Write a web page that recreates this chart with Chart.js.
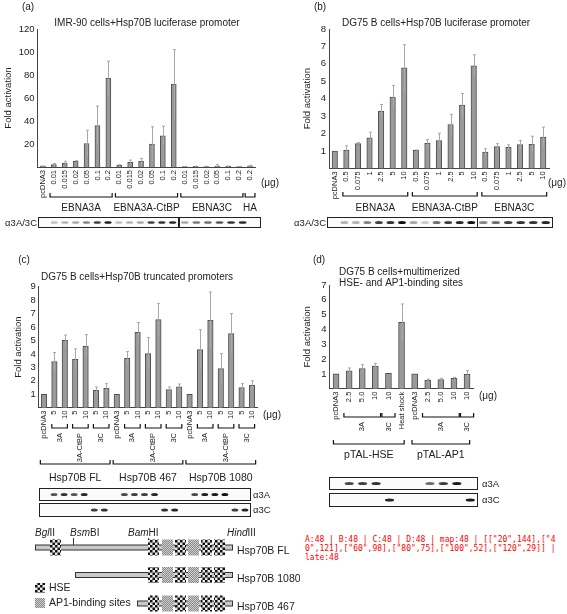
<!DOCTYPE html>
<html>
<head>
<meta charset="utf-8">
<script src="https://cdn.jsdelivr.net/npm/chart.js@4.4.1/dist/chart.umd.min.js"></script>
<style>
  body { margin: 0; background: #fff; width: 567px; height: 614px; position: relative; overflow: hidden; }
  canvas { position: absolute; }
</style>
</head>
<body>
<canvas id="chartA" width="283" height="235" style="left:0;top:0"></canvas>
<canvas id="chartB" width="284" height="235" style="left:283px;top:0"></canvas>
<canvas id="chartC" width="283" height="290" style="left:0;top:235px"></canvas>
<canvas id="chartD" width="284" height="290" style="left:283px;top:235px"></canvas>
<canvas id="promoterMap" width="300" height="89" style="left:0;top:525px"></canvas>
<div id="dbg" style="position:absolute;left:305px;top:535px;width:260px;font:8px monospace;color:red;word-break:break-all"></div>
<script>
// (a) IMR-90 cells
const labelsA = ['pcDNA3', '0.01', '0.015', '0.02', '0.05', '0.1', '0.2', '0.01', '0.015', '0.02', '0.05', '0.1', '0.2', '0.01', '0.015', '0.02', '0.05', '0.1', '0.2', '0.2'];
const valuesA = [1, 2, 3.5, 5, 20.4, 36, 77, 1.5, 4, 5, 20, 27, 72, 0.4, 0.5, 0.4, 0.8, 0.5, 0.4, 1];
const errorsA = [0, 1, 1.5, 0.5, 11.6, 17, 15, 0.5, 2, 2.5, 15, 8.5, 30, 0, 0.2, 0.2, 1.2, 0.3, 0.1, 0.5];
const yTicksA = [20, 40, 60, 80, 100, 120];
const groupsA = ['EBNA3A', 'EBNA3A-CtBP', 'EBNA3C', 'HA'];
const bandsA = [0, 0.25, 0.3, 0.35, 0.5, 0.8, 0.95, 0.25, 0.3, 0.35, 0.8, 0.85, 0.9, 0.35, 0.55, 0.6, 0.7, 0.85, 0.9, 0];

// (b) DG75 B cells
const labelsB = ['pcDNA3', '0.5', '0.075', '1', '2.5', '5', '10', '0.5', '0.075', '1', '2.5', '5', '10', '0.5', '0.075', '1', '2.5', '5', '10'];
const valuesB = [1, 1.04, 1.42, 1.75, 3.29, 4.1, 5.77, 1.04, 1.44, 1.6, 2.52, 3.63, 5.88, 0.94, 1.25, 1.21, 1.37, 1.38, 1.8];
const errorsB = [0, 0.25, 0.06, 0.33, 0.38, 0.65, 1.33, 0.02, 0.21, 0.42, 0.58, 0.67, 0.64, 0.19, 0.17, 0.14, 0.23, 0.47, 0.57];
const yTicksB = [1, 2, 3, 4, 5, 6, 7, 8];
const groupsB = ['EBNA3A', 'EBNA3A-CtBP', 'EBNA3C'];
const bandsB = [0, 0.3, 0.3, 0.5, 0.8, 0.85, 1, 0.35, 0.2, 0.6, 0.8, 0.9, 1, 0.5, 0.6, 0.8, 0.85, 0.85, 0.9];

// (c) truncated promoters
const labelsC = ['pcDNA3', '5', '10', '5', '10', '5', '10', 'pcDNA3', '5', '10', '5', '10', '5', '10', 'pcDNA3', '5', '10', '5', '10', '5', '10'];
const valuesC = [1, 3.42, 5.0, 3.6, 4.56, 1.29, 1.44, 1, 3.67, 5.6, 4.02, 6.55, 1.34, 1.56, 1, 4.32, 6.5, 2.9, 5.5, 1.49, 1.66];
const errorsC = [0, 0.68, 0.4, 0.77, 0.87, 0.25, 0.35, 0, 0.5, 0.73, 1.19, 1.19, 0.2, 0.2, 0, 1.48, 2.1, 1.12, 1.5, 0.3, 0.34];
const yTicksC = [1, 2, 3, 4, 5, 6, 7, 8, 9];
const constructsC = ['3A', '3A-CtBP', '3C'];
const promotersC = ['Hsp70B FL', 'Hsp70B 467', 'Hsp70B 1080'];
const bands3AC = [0, 0.7, 0.85, 0.7, 0.9, 0, 0, 0, 0.75, 0.8, 0.8, 0.9, 0, 0, 0, 0.75, 0.95, 0.95, 1, 0, 0];
const bands3CC = [0, 0, 0, 0, 0, 0.8, 0.85, 0, 0, 0, 0, 0, 0.85, 0.9, 0, 0, 0, 0, 0, 0.8, 0.9];

// (d) multimerized HSE / AP1 sites
const labelsD = ['pcDNA3', '2.5', '5.0', '10', '10', 'Heat shock', 'pcDNA3', '2.5', '5.0', '10', '10'];
const valuesD = [1, 1.2, 1.35, 1.53, 1.04, 4.48, 1, 0.59, 0.61, 0.7, 0.97];
const errorsD = [0, 0.2, 0.27, 0.18, 0, 1.24, 0, 0.06, 0.09, 0.07, 0.25];
const yTicksD = [1, 2, 3, 4, 5, 6, 7];
const reportersD = ['pTAL-HSE', 'pTAL-AP1'];
const bands3AD = [0, 0.75, 0.8, 0.85, 0, 0, 0, 0.6, 0.8, 0.95, 0];
const bands3CD = [0, 0, 0, 0, 0.9, 0, 0, 0, 0, 0, 0.95];

const FONT = '"Liberation Sans", Arial, sans-serif';
const INK = '#222';
const log = [];
function countDark() {
  const d = document.getElementById('chartA').getContext('2d').getImageData(18, 24, 18, 10).data;
  let dark = 0;
  for (let i = 0; i < d.length; i += 4) if (d[i + 3] > 50 && d[i] < 150) dark++;
  return dark;
}

function bracket(ctx, x1, x2, y, h) {
  ctx.beginPath();
  ctx.moveTo(x1, y - h); ctx.lineTo(x1, y); ctx.lineTo(x2, y); ctx.lineTo(x2, y - h);
  ctx.stroke();
}

function decor(o) {
  return {
    id: 'decor',
    afterDatasetsDraw(chart) {
      const ctx = chart.ctx, ys = chart.scales.y;
      const ds = chart.data.datasets[0];
      const meta = chart.getDatasetMeta(0);
      ctx.save();
      ctx.strokeStyle = '#a8a8a8';
      ctx.lineWidth = 1;
      meta.data.forEach((bar, i) => {
        const e = o.errors[i];
        if (!e) return;
        const x = Math.round(bar.x) + 0.5;
        const yt = ys.getPixelForValue(ds.data[i] + e);
        const yb = ys.getPixelForValue(Math.max(0, ds.data[i] - e));
        ctx.beginPath();
        ctx.moveTo(x, yb); ctx.lineTo(x, yt);
        ctx.moveTo(x - 1.5, yt); ctx.lineTo(x + 1.5, yt);
        ctx.stroke();
      });
      ctx.restore();
    },
    afterDraw(chart) {
      const ctx = chart.ctx, xs = chart.scales.x, area = chart.chartArea;
      const lane = i => xs.getPixelForValue(i);
      ctx.save();
      ctx.fillStyle = INK;
      ctx.strokeStyle = '#111';
      ctx.textBaseline = 'middle';
      ctx.font = '10px ' + FONT;
      ctx.textAlign = 'center';
      ctx.fillText(o.letter[0], o.letter[1], o.letter[2]);
      o.title.forEach(t => {
        ctx.textAlign = t[3] || 'center';
        ctx.fillText(t[0], t[1], t[2]);
      });
      ctx.save();
      ctx.font = '9.5px ' + FONT;
      ctx.textAlign = 'center';
      ctx.translate(o.yTitleX, (area.top + area.bottom) / 2);
      ctx.rotate(-Math.PI / 2);
      ctx.fillText('Fold activation', 0, 0);
      ctx.restore();
      ctx.font = '10px ' + FONT;
      ctx.textAlign = 'center';
      ctx.fillText('(μg)', o.unit[0], o.unit[1]);
      ctx.lineWidth = 1.2;
      (o.brackets || []).forEach(b => {
        const w = xs.getPixelForValue(1) - xs.getPixelForValue(0);
        const x1 = lane(b.from) - b.pad * w, x2 = lane(b.to) + b.pad * w;
        bracket(ctx, x1, x2, b.y, 4);
        if (!b.text) return;
        if (b.rotate) {
          ctx.save();
          ctx.font = b.size + 'px ' + FONT;
          ctx.translate((lane(b.from) + lane(b.to)) / 2, b.ty);
          ctx.rotate(-Math.PI / 2);
          ctx.textAlign = 'right';
          ctx.fillText(b.text, 0, 0);
          ctx.restore();
        } else {
          ctx.font = b.size + 'px ' + FONT;
          ctx.textAlign = 'center';
          ctx.fillText(b.text, (lane(b.from) + lane(b.to)) / 2, b.ty);
        }
      });
      (o.blots || []).forEach(bl => {
        ctx.lineWidth = 1;
        ctx.strokeStyle = '#222';
        bl.boxes.forEach(bx => {
          ctx.fillStyle = '#fbfbfb';
          ctx.fillRect(bx[0], bl.top, bx[1] - bx[0], bl.h);
          ctx.strokeRect(bx[0] + 0.5, bl.top + 0.5, bx[1] - bx[0], bl.h);
          const n = bx[3] - bx[2] + 1, pitch = (bx[1] - bx[0]) / n;
          for (let i = bx[2]; i <= bx[3]; i++) {
            const a = bl.bands[i];
            if (!a) continue;
            const cx = bx[0] + (i - bx[2] + 0.5) * pitch;
            ctx.fillStyle = 'rgba(15,15,15,' + a + ')';
            ctx.beginPath();
            ctx.ellipse(cx, bl.top + bl.h / 2 + 0.5, pitch * 0.34, bl.bandH / 2, 0, 0, Math.PI * 2);
            ctx.fill();
          }
        });
        ctx.fillStyle = INK;
        ctx.font = '9.5px ' + FONT;
        ctx.textAlign = bl.align;
        ctx.fillText(bl.label, bl.labelX, bl.top + bl.h / 2 + 1);
      });
      ctx.restore();
    }
  };
}

function makePanel(id, labels, values, yTicks, o) {
  const canvas = document.getElementById(id);
  const W = canvas.width, H = canvas.height;
  const XH = 40;
  return new Chart(canvas, {
    type: 'bar',
    data: {
      labels: labels,
      datasets: [{ data: values, backgroundColor: '#9a9a9a', borderColor: '#505050', borderWidth: 1, barThickness: o.barW }]
    },
    options: {
      responsive: false,
      animation: false,
      layout: { padding: { left: 0, top: o.area.top, right: W - o.area.right, bottom: H - o.area.bottom - XH } },
      plugins: { legend: { display: false }, tooltip: { enabled: false } },
      scales: {
        x: {
          grid: { display: false, drawTicks: false },
          border: { color: '#444', width: 1 },
          ticks: { autoSkip: false, maxRotation: 90, minRotation: 90, padding: 3, color: INK, font: { family: FONT, size: o.xFont } },
          afterFit: s => { s.height = XH; }
        },
        y: {
          min: 0, max: yTicks[yTicks.length - 1],
          grid: { display: false, drawTicks: false },
          border: { color: '#444', width: 1 },
          ticks: { autoSkip: false, padding: 3, color: INK, font: { family: FONT, size: 9.5 } },
          afterBuildTicks: s => { s.ticks = yTicks.map(v => ({ value: v })); },
          afterFit: s => { s.width = o.area.left; }
        }
      }
    },
    plugins: [decor(o)]
  });
}

// panel (a)
const chartA = makePanel('chartA', labelsA, valuesA, yTicksA, {
  errors: errorsA, barW: 5, xFont: 7.5,
  area: { left: 37.5, right: 255.5, top: 29, bottom: 167 },
  letter: ['(a)', 28, 7],
  title: [['IMR-90 cells+Hsp70B luciferase promoter', 147, 23]],
  yTitleX: 8, unit: [270, 183],
  brackets: [
    { from: 1, to: 6, pad: 0.35, y: 197, text: groupsA[0], ty: 208, size: 10 },
    { from: 7, to: 12, pad: 0.35, y: 197, text: groupsA[1], ty: 208, size: 10 },
    { from: 13, to: 18, pad: 0.35, y: 197, text: groupsA[2], ty: 208, size: 10 },
    { from: 19, to: 19, pad: 0.45, y: 197, text: groupsA[3], ty: 208, size: 10 }
  ],
  blots: [{ top: 217, h: 10, bandH: 2.6, label: 'α3A/3C', labelX: 37, align: 'right', bands: bandsA, boxes: [[38, 178, 0, 12], [179, 260, 13, 19]] }]
});
log.push('A:' + countDark());

// panel (b)
makePanel('chartB', labelsB, valuesB, yTicksB, {
  errors: errorsB, barW: 5.5, xFont: 7.5,
  area: { left: 46, right: 266, top: 29, bottom: 168.4 },
  letter: ['(b)', 37, 7],
  title: [['DG75 B cells+Hsp70B luciferase promoter', 153, 23]],
  yTitleX: 24, unit: [274, 183],
  brackets: [
    { from: 1, to: 6, pad: 0.3, y: 196, text: groupsB[0], ty: 208, size: 10 },
    { from: 7, to: 12, pad: 0.3, y: 196, text: groupsB[1], ty: 208, size: 10 },
    { from: 13, to: 18, pad: 0.3, y: 196, text: groupsB[2], ty: 208, size: 10 }
  ],
  blots: [{ top: 217, h: 10, bandH: 3, label: 'α3A/3C', labelX: 43, align: 'right', bands: bandsB, boxes: [[44, 194, 0, 12], [194, 269, 13, 18]] }]
});
log.push('B:' + countDark());

// panel (c)
const bracketsC = [];
promotersC.forEach((p, g) => {
  const base = g * 7;
  constructsC.forEach((c, k) => {
    bracketsC.push({ from: base + 1 + 2 * k, to: base + 2 + 2 * k, pad: 0.25, y: 193, text: c, ty: 198, size: 7.5, rotate: true });
  });
  bracketsC.push({ from: base, to: base + 6, pad: 0.35, y: 229, text: p, ty: 243, size: 10.5 });
});
makePanel('chartC', labelsC, valuesC, yTicksC, {
  errors: errorsC, barW: 5.5, xFont: 7.5,
  area: { left: 38.8, right: 257.2, top: 51.6, bottom: 172.7 },
  letter: ['(c)', 24, 25],
  title: [['DG75 B cells+Hsp70B truncated promoters', 137, 42]],
  yTitleX: 18, unit: [272, 180],
  brackets: bracketsC,
  blots: [
    { top: 253, h: 12, bandH: 3, label: 'α3A', labelX: 253, align: 'left', bands: bands3AC, boxes: [[39, 250, 0, 20]] },
    { top: 268, h: 13, bandH: 3, label: 'α3C', labelX: 253, align: 'left', bands: bands3CC, boxes: [[39, 250, 0, 20]] }
  ]
});
log.push('C:' + countDark());

// panel (d)
makePanel('chartD', labelsD, valuesD, yTicksD, {
  errors: errorsD, barW: 6, xFont: 7.5,
  area: { left: 46.5, right: 190.6, top: 50, bottom: 153.7 },
  letter: ['(d)', 36, 25],
  title: [['DG75 B cells+multimerized', 56, 37, 'left'], ['HSE- and AP1-binding sites', 56, 48, 'left']],
  yTitleX: 24, unit: [205, 161],
  brackets: [
    { from: 1, to: 3, pad: 0.4, y: 182, text: '3A', ty: 187, size: 7.5, rotate: true },
    { from: 4, to: 4, pad: 0.5, y: 182, text: '3C', ty: 187, size: 7.5, rotate: true },
    { from: 7, to: 9, pad: 0.4, y: 182, text: '3A', ty: 187, size: 7.5, rotate: true },
    { from: 10, to: 10, pad: 0.5, y: 182, text: '3C', ty: 187, size: 7.5, rotate: true },
    { from: 0, to: 5, pad: 0.2, y: 209, text: reportersD[0], ty: 220, size: 10.5 },
    { from: 6, to: 10, pad: 0.2, y: 209, text: reportersD[1], ty: 220, size: 10.5 }
  ],
  blots: [
    { top: 242, h: 12, bandH: 3, label: 'α3A', labelX: 199, align: 'left', bands: bands3AD, boxes: [[46, 194, 0, 10]] },
    { top: 258, h: 13, bandH: 3, label: 'α3C', labelX: 199, align: 'left', bands: bands3CD, boxes: [[46, 194, 0, 10]] }
  ]
});
log.push('D:' + countDark());

// promoter map under panel (c)
(function drawMap() {
  const cv = document.getElementById('promoterMap');
  const ctx = cv.getContext('2d');
  function pat(a, b, size) {
    const p = document.createElement('canvas');
    p.width = p.height = size * 2;
    const c = p.getContext('2d');
    c.fillStyle = b; c.fillRect(0, 0, size * 2, size * 2);
    c.fillStyle = a; c.fillRect(0, 0, size, size); c.fillRect(size, size, size, size);
    return ctx.createPattern(p, 'repeat');
  }
  const hse = pat('#111', '#e8e8e8', 2.5);
  const ap1 = pat('#8a8a8a', '#cfcfcf', 1);
  function site(x, y, kind, w, h) {
    ctx.fillStyle = kind === 'H' ? hse : ap1;
    ctx.fillRect(x, y, w || 11, h || 16);
  }
  const sites = [[148, 'H'], [162, 'A'], [175, 'H'], [188, 'A'], [201, 'H'], [214, 'H']];
  function construct(x1, y, name, extra) {
    ctx.fillStyle = '#c8c8c8';
    ctx.strokeStyle = '#333';
    ctx.lineWidth = 1;
    ctx.fillRect(x1, y - 2.5, 232 - x1, 5);
    ctx.strokeRect(x1 + 0.5, y - 2.5, 232 - x1, 5);
    (extra || []).concat(sites).forEach(s => site(s[0], y - 8, s[1]));
    ctx.fillStyle = INK;
    ctx.font = '10.5px ' + FONT;
    ctx.textAlign = 'left';
    ctx.textBaseline = 'middle';
    ctx.fillText(name, 237, y + 4);
  }
  ctx.fillStyle = INK;
  ctx.textBaseline = 'middle';
  function enzyme(x, it, rest) {
    ctx.font = 'italic 10px ' + FONT;
    ctx.fillText(it, x, 8);
    const w = ctx.measureText(it).width;
    ctx.font = '10px ' + FONT;
    ctx.fillText(rest, x + w, 8);
  }
  enzyme(35, 'Bgl', 'II');
  enzyme(70, 'Bsm', 'BI');
  enzyme(128, 'Bam', 'HI');
  enzyme(227, 'Hind', 'III');
  ctx.strokeStyle = '#333';
  ctx.beginPath();
  ctx.moveTo(73.5, 13); ctx.lineTo(73.5, 20);
  ctx.moveTo(148.5, 13); ctx.lineTo(148.5, 20);
  ctx.stroke();
  construct(35, 22.5, 'Hsp70B FL', [[50, 'H']]);
  construct(75, 50, 'Hsp70B 1080');
  construct(137, 78.5, 'Hsp70B 467');
  site(35, 58, 'H', 10, 10);
  site(35, 73, 'A', 10, 10);
  ctx.fillStyle = INK;
  ctx.font = '10.5px ' + FONT;
  ctx.textAlign = 'left';
  ctx.fillText('HSE', 49, 63.5);
  ctx.fillText('AP1-binding sites', 49, 78.5);
})();
log.push('map:' + countDark());
const ys = chartA.scales.y;
log.push(JSON.stringify(ys.getLabelItems().map(i => [i.label, Math.round(i.options.translation[1])])));
document.getElementById('dbg').textContent = log.join(' | ');
setTimeout(() => { document.getElementById('dbg').textContent += ' | late:' + countDark(); }, 300);
</script>
</body>
</html>
